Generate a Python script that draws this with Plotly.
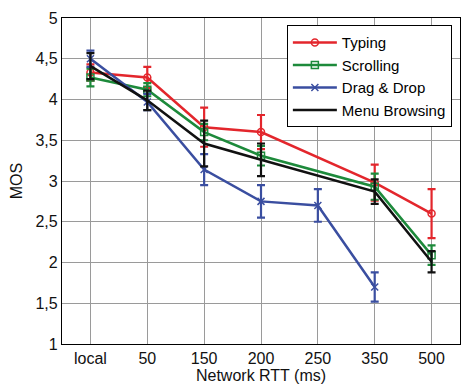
import plotly.graph_objects as go

# Network round-trip times (ms) shown on the x axis
rtt = ["local", "50", "150", "200", "250", "350", "500"]

# Mean opinion scores per interaction type (None = not measured)
typing = [4.33, 4.27, 3.66, 3.60, None, 2.98, 2.60]
typing_err = [0.10, 0.13, 0.24, 0.21, None, 0.22, 0.30]

scrolling = [4.27, 4.12, 3.60, 3.31, None, 2.93, 2.09]
scrolling_err = [0.11, 0.08, 0.10, 0.12, None, 0.16, 0.12]

drag_drop = [4.50, 3.97, 3.14, 2.75, 2.70, 1.70, None]
drag_drop_err = [0.10, 0.10, 0.19, 0.20, 0.20, 0.18, None]

menu = [4.41, 3.99, 3.46, 3.26, None, 2.87, 2.01]
menu_err = [0.16, 0.12, 0.28, 0.20, None, 0.15, 0.13]

y_ticks = [1, 1.5, 2, 2.5, 3, 3.5, 4, 4.5, 5]
y_ticktext = ["1", "1,5", "2", "2,5", "3", "3,5", "4", "4,5", "5"]

series = [
    ("Typing", typing, typing_err, "#e3262c", "circle-open"),
    ("Scrolling", scrolling, scrolling_err, "#1d8a3b", "square-open"),
    ("Drag & Drop", drag_drop, drag_drop_err, "#3a4ea0", "x-thin-open"),
    ("Menu Browsing", menu, menu_err, "#111111", None),
]

fig = go.Figure()
for name, vals, errs, color, symbol in series:
    marker = dict(color=color, size=7, line=dict(color=color, width=1.5))
    if symbol:
        marker["symbol"] = symbol
    fig.add_trace(go.Scatter(
        x=rtt, y=vals, name=name,
        mode="lines+markers" if symbol else "lines",
        connectgaps=True,
        line=dict(color=color, width=2.5),
        marker=marker,
        error_y=dict(type="data", array=errs, visible=True,
                     color=color, thickness=2.2, width=4),
    ))

font = "Liberation Sans, Arial, sans-serif"
fig.update_layout(
    width=462, height=387,
    margin=dict(l=62, r=2, t=18, b=43),
    paper_bgcolor="white", plot_bgcolor="white",
    font=dict(family=font, size=16, color="#111111"),
    legend=dict(
        x=0.565, y=0.978, xanchor="left", yanchor="top",
        bgcolor="white", bordercolor="black", borderwidth=1,
        font=dict(size=15, color="black"), tracegroupgap=0,
        itemwidth=44,
    ),
    showlegend=True,
)
fig.update_xaxes(
    type="category", categoryorder="array", categoryarray=rtt,
    range=[-0.5, 6.5],
    showgrid=True, gridcolor="#9a9a9a", gridwidth=1.2,
    showline=True, linecolor="black", linewidth=1.2, mirror=True,
    ticks="", tickfont=dict(size=16),
    title=dict(text="Network RTT (ms)", font=dict(size=16), standoff=2),
)
fig.update_yaxes(
    range=[1, 5], tickvals=y_ticks, ticktext=y_ticktext,
    showgrid=True, gridcolor="#9a9a9a", gridwidth=1.2,
    showline=True, linecolor="black", linewidth=1.2, mirror=True,
    zeroline=False, ticks="", tickfont=dict(size=16),
    title=dict(text="MOS", font=dict(size=16), standoff=8),
)

fig.write_html("out.html")
